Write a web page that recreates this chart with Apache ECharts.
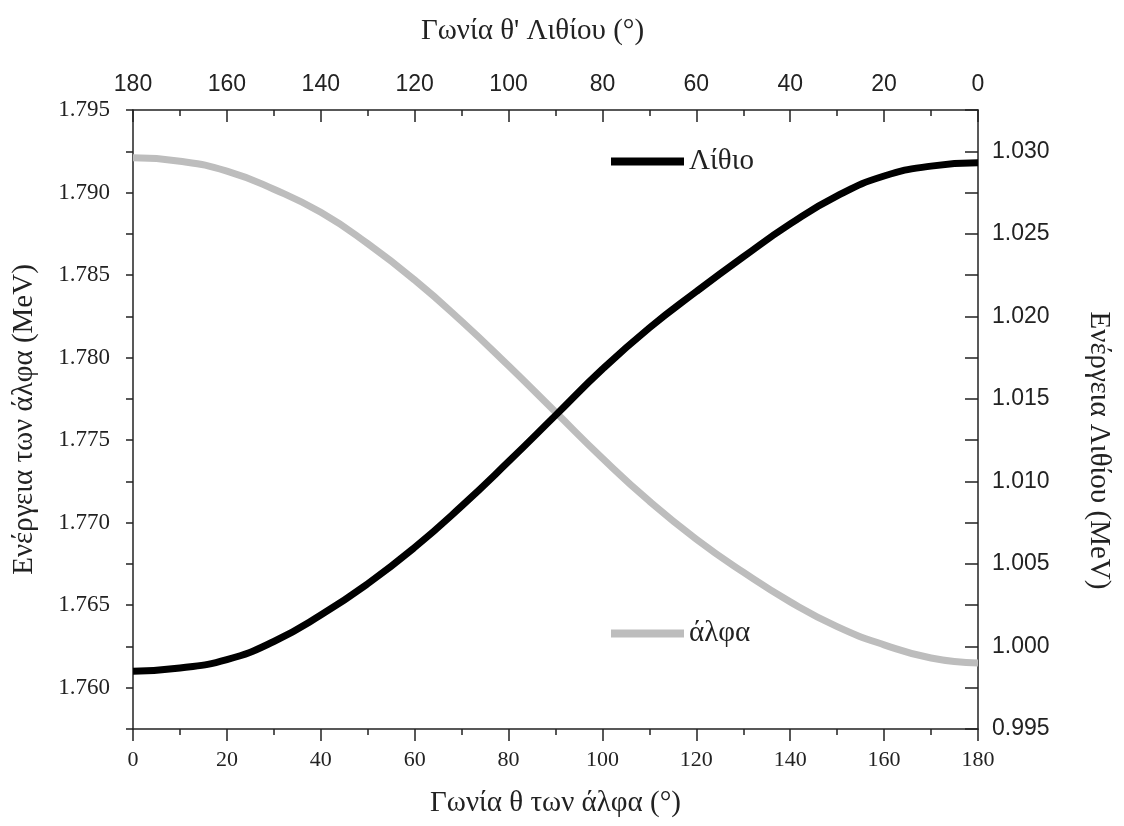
<!DOCTYPE html>
<html>
<head>
<meta charset="utf-8">
<script src="https://cdn.jsdelivr.net/npm/echarts@6/dist/echarts.min.js"></script>
<style>html,body{margin:0;padding:0;background:#fff;}#c{width:1124px;height:826px;}</style>
</head>
<body>
<div id="c"></div>
<script>
// Bottom axis: angle θ of the alpha particle (degrees)
const alphaAngle = [0,10,20,30,40,50,60,70,80,90,100,110,120,130,140,150,160,170,180];
// Alpha energy (MeV), left axis
const alphaEnergy = [1.7921,1.7919,1.7913,1.7902,1.7888,1.7869,1.7847,1.7822,1.7795,1.7767,1.7739,1.7713,1.7690,1.7670,1.7652,1.7637,1.7626,1.7618,1.7615];
// Top axis: lithium angle θ' (degrees), reversed axis
const liAngle = [180,170,160,150,140,130,120,110,100,90,80,70,60,50,40,30,20,10,0];
// Lithium energy (MeV), right axis
const liEnergy = [0.9985,0.9987,0.9992,1.0003,1.0019,1.0038,1.0060,1.0085,1.0112,1.0140,1.0168,1.0193,1.0215,1.0236,1.0256,1.0273,1.0285,1.0291,1.0293];

const leftMajor = [1.760,1.765,1.770,1.775,1.780,1.785,1.790,1.795];
const rightMajor = [0.995,1.000,1.005,1.010,1.015,1.020,1.025,1.030];

const AX = '#222';
const serif = '"Liberation Serif","Times New Roman",serif';
const sans = '"Liberation Sans",Arial,sans-serif';
const narrow = '"Liberation Sans Narrow","Liberation Sans",Arial,sans-serif';

function major(v){ const k = v*1000/5; return Math.abs(k-Math.round(k))<1e-6; }

const chart = echarts.init(document.getElementById('c'), null, {renderer:'canvas'});
const lineStyleAxis = {show:true, lineStyle:{color:AX, width:1.5}};
const TITLE = 29;

chart.setOption({
  animation:false,
  backgroundColor:'#fff',
  grid:{left:133, right:146, top:110, bottom:97, containLabel:false},
  legend:[
    {left:606, top:142, orient:'vertical', data:['Λίθιο'], itemWidth:73, itemHeight:8,
     textStyle:{fontFamily:serif, fontSize:TITLE, color:AX}, icon:'rect', itemGap:0},
    {left:606, top:614, orient:'vertical', data:['άλφα'], itemWidth:73, itemHeight:8,
     textStyle:{fontFamily:serif, fontSize:TITLE, color:AX}, icon:'rect', itemGap:0}
  ],
  xAxis:[
    {type:'value', position:'bottom', min:0, max:180, interval:20,
     axisLine:lineStyleAxis, splitLine:{show:false},
     axisTick:{show:true, inside:false, length:12, lineStyle:{color:AX,width:1.5}},
     minorTick:{show:true, splitNumber:2, length:6, lineStyle:{color:AX,width:1.5}},
     axisLabel:{fontFamily:serif, fontSize:22, color:AX, margin:20},
     name:'Γωνία θ των άλφα (°)', nameLocation:'middle', nameGap:60,
     nameTextStyle:{fontFamily:serif, fontSize:TITLE, color:AX}},
    {type:'value', position:'top', inverse:true, min:0, max:180, interval:20,
     axisLine:lineStyleAxis, splitLine:{show:false},
     axisTick:{show:true, inside:true, length:12, lineStyle:{color:AX,width:1.5}},
     minorTick:{show:true, splitNumber:2, length:6, lineStyle:{color:AX,width:1.5}},
     axisLabel:{fontFamily:narrow, fontSize:23, color:AX, margin:14},
     name:"Γωνία θ' Λιθίου (°)", nameLocation:'middle', nameGap:64,
     nameTextStyle:{fontFamily:serif, fontSize:TITLE, color:AX, padding:[0,46,0,0]}}
  ],
  yAxis:[
    {type:'value', position:'left', min:1.7575, max:1.795, interval:0.0025,
     axisLine:lineStyleAxis, splitLine:{show:false},
     axisTick:{show:true, inside:false, length:7, lineStyle:{color:AX,width:1.5}},
     axisLabel:{fontFamily:serif, fontSize:23, color:AX, margin:23,
       formatter:function(v){ return major(v) ? v.toFixed(3) : ''; }},
     name:'Ενέργεια των άλφα (MeV)', nameLocation:'middle', nameGap:94, nameRotate:90,
     nameTextStyle:{fontFamily:serif, fontSize:TITLE, color:AX}},
    {type:'value', position:'left', min:1.7575, max:1.795,
     axisLine:{show:false}, splitLine:{show:false}, axisLabel:{show:false},
     axisTick:{show:true, inside:false, length:13, customValues:leftMajor, lineStyle:{color:AX,width:1.5}}},
    {type:'value', position:'right', min:0.995, max:1.0325, interval:0.0025,
     axisLine:lineStyleAxis, splitLine:{show:false},
     axisTick:{show:true, inside:true, length:7, lineStyle:{color:AX,width:1.5}},
     axisLabel:{fontFamily:sans, fontSize:23, color:AX, margin:14,
       formatter:function(v){ return major(v) ? v.toFixed(3) : ''; }},
     name:'Ενέργεια Λιθίου (MeV)', nameLocation:'middle', nameGap:106, nameRotate:-90,
     nameTextStyle:{fontFamily:serif, fontSize:TITLE, color:AX, padding:[0,0,0,62]}},
    {type:'value', position:'right', min:0.995, max:1.0325,
     axisLine:{show:false}, splitLine:{show:false}, axisLabel:{show:false},
     axisTick:{show:true, inside:true, length:13, customValues:rightMajor, lineStyle:{color:AX,width:1.5}}}
  ],
  series:[
    {name:'άλφα', type:'line', xAxisIndex:0, yAxisIndex:0, smooth:true, symbol:'none',
     lineStyle:{color:'#bdbdbd', width:7}, itemStyle:{color:'#bdbdbd'},
     data:alphaAngle.map((a,i)=>[a, alphaEnergy[i]])},
    {name:'Λίθιο', type:'line', xAxisIndex:1, yAxisIndex:2, smooth:true, symbol:'none',
     lineStyle:{color:'#000', width:7}, itemStyle:{color:'#000'},
     data:liAngle.map((a,i)=>[a, liEnergy[i]])}
  ]
});
</script>
</body>
</html>
